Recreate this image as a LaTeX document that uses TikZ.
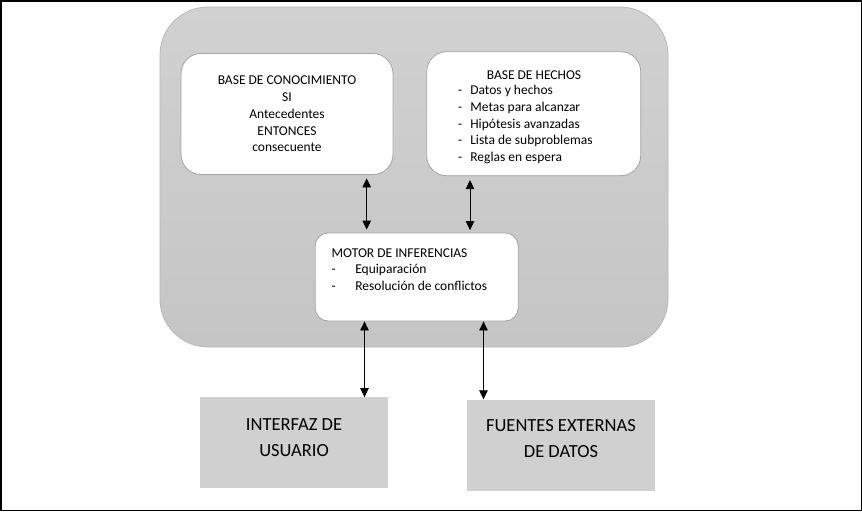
\documentclass[tikz,border=0pt]{standalone}
\usepackage{fontspec}
\setmainfont{Carlito}
\usetikzlibrary{positioning,arrows.meta,calc}
\definecolor{marcoarriba}{RGB}{209,209,209}
\definecolor{marcoabajo}{RGB}{197,197,197}
\definecolor{bordemarco}{RGB}{185,185,185}
\definecolor{bordecaja}{RGB}{165,165,165}
\definecolor{externa}{RGB}{208,208,208}

\tikzset{
  cajablanca/.style={draw=bordecaja, fill=white, line width=0.8pt, inner sep=0pt},
  cajaexterna/.style={fill=externa, inner sep=0pt, minimum width=188pt, minimum height=91pt},
  texto/.style={font=\fontsize{13.5}{16.7}\selectfont, inner sep=0pt},
  textogrande/.style={font=\fontsize{18.5}{25.5}\selectfont, align=center, inner sep=0pt},
  flecha/.style={{Triangle[width=8.5pt,length=9pt]}-{Triangle[width=8.5pt,length=9pt]}, line width=0.8pt}
}

\begin{document}
\begin{tikzpicture}[x=1pt, y=-1pt]

    \useasboundingbox (0,0) rectangle (862,512);
    % Marco de la figura
    \draw[line width=1.5pt] (0.75,0.75) rectangle (861.25,510.5);

    % =========================================================================
    % SISTEMA EXPERTO
    % =========================================================================
    \node[top color=marcoarriba, bottom color=marcoabajo, draw=bordemarco, line width=0.8pt, rounded corners=48pt,
          minimum width=508pt, minimum height=340pt, inner sep=0pt] (sistema) at (414,177) {};

    % Base de conocimiento
    \node[cajablanca, rounded corners=20pt, minimum width=212pt, minimum height=121pt,
          texto, align=center] (conocimiento) at (287,114)
        {BASE DE CONOCIMIENTO\\SI\\Antecedentes\\ENTONCES\\consecuente};

    % Base de hechos
    \node[cajablanca, rounded corners=20pt, minimum width=214pt, minimum height=124pt] (hechos) at (533.7,113.7) {};
    \node[texto] (hechos-titulo) at (534,75) {BASE DE HECHOS};
    \node[texto, anchor=west, align=left] (hechos-lista) at (458,124.5)
        {-\hspace{8pt}Datos y hechos\\
         -\hspace{8pt}Metas para alcanzar\\
         -\hspace{8pt}Hipótesis avanzadas\\
         -\hspace{8pt}Lista de subproblemas\\
         -\hspace{8pt}Reglas en espera};

    % Motor de inferencias
    \node[cajablanca, rounded corners=13pt, minimum width=203pt, minimum height=88pt] (motor) at (416.7,277) {};
    \node[texto, anchor=west, align=left] (motor-texto) at (331.5,269.5)
        {MOTOR DE INFERENCIAS\\
         -\hspace{19.5pt}Equiparación\\
         -\hspace{19.5pt}Resolución de conflictos};

    % =========================================================================
    % ELEMENTOS EXTERNOS
    % =========================================================================
    \node[cajaexterna] (interfaz) at (293.5,442.8) {};
    \node[textogrande] (interfaz-texto) at (294,437.5) {INTERFAZ DE\\USUARIO};

    \node[cajaexterna] (fuentes) at (561,445) {};
    \node[textogrande] (fuentes-texto) at (561,438.5) {FUENTES EXTERNAS\\DE DATOS};

    % =========================================================================
    % FLECHAS
    % =========================================================================
    \coordinate (xa) at (366.7,0);
    \coordinate (xb) at (470,0);
    \coordinate (xc) at (364.5,0);
    \coordinate (xd) at (483.5,0);

    \draw[flecha, shorten <=3.5pt, shorten >=3pt] (conocimiento.south -| xa) -- (motor.north -| xa);
    \draw[flecha, shorten <=4pt, shorten >=2.5pt] (hechos.south -| xb) -- (motor.north -| xb);
    \draw[flecha] (motor.south -| xc) -- (interfaz.north -| xc);
    \draw[flecha] (motor.south -| xd) -- (fuentes.north -| xd);

\end{tikzpicture}
\end{document}
